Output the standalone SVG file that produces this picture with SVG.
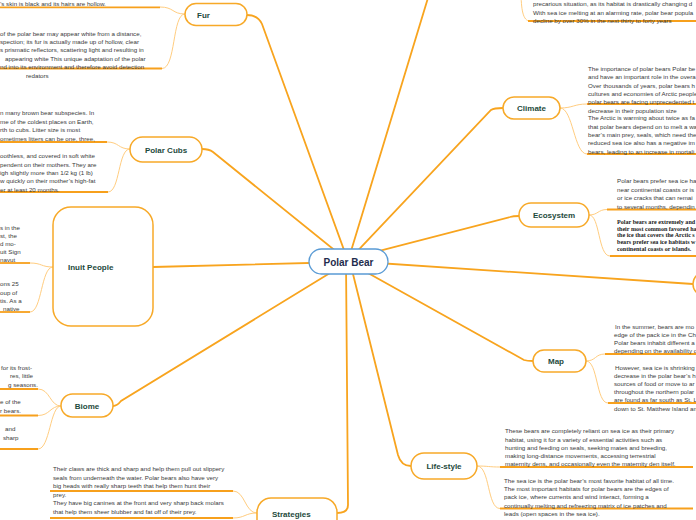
<svg xmlns="http://www.w3.org/2000/svg" width="696" height="520" viewBox="0 0 696 520">
<style>
.main{fill:none;stroke:#f8a41e;stroke-width:1.8;stroke-linecap:round}
.br{fill:none;stroke:#ffcd80;stroke-width:1}
.ul{stroke:#f7a01c;stroke-width:1.8}
.node{fill:#ffffff;stroke:#f7a928;stroke-width:1.5}
.nt{font-family:"Liberation Sans",Arial,sans-serif;font-size:8px;font-weight:bold;fill:#1e4a3c}
.lt{font-family:"Liberation Sans",Arial,sans-serif;font-size:6.2px;fill:#3a3a3a}
.st{font-family:"Liberation Serif","Times New Roman",serif;font-size:6.1px;fill:#222222;font-weight:bold}
</style>
<rect width="696" height="520" fill="#ffffff"/>
<g id="connectors">
<path class="main" d="M348,261 L262,24 Q258,15 247,15"/>
<path class="main" d="M348,261 L431,-12"/>
<path class="main" d="M348,261 L213,152 Q209,149 202,149"/>
<path class="main" d="M348,261 L491,110 Q494,108 503,108"/>
<path class="main" d="M348,259 L510,217 Q513,216 519,216"/>
<path class="main" d="M348,261 L693,284"/>
<path class="main" d="M348,262 L153,267"/>
<path class="main" d="M348,262 L121,401 Q117,406 113,406"/>
<path class="main" d="M346,262 L348,505 Q348,513 337,513"/>
<path class="main" d="M350,262 L398,455 Q401,466 411,466"/>
<path class="main" d="M350,263 L524,360 Q527,361 533,361"/>
<path class="br" d="M185,14 C172,14 174,7 160,7"/>
<path class="br" d="M185,14 C172,14 176,68.5 162,68.5"/>
<path class="br" d="M130,149 C118,149 119,142 107,142"/>
<path class="br" d="M130,149 C118,149 120,192 108,192"/>
<path class="br" d="M53,267 C41,267 42,263 30,263"/>
<path class="br" d="M53,267 C41,267 42,312 30,312"/>
<path class="br" d="M61,406 C50,406 50,389 38,389"/>
<path class="br" d="M61,406 C50,406 50,415.5 38,415.5"/>
<path class="br" d="M61,406 C50,406 50,449 38,449"/>
<path class="br" d="M257,513 C245,513 245,491 233,491"/>
<path class="br" d="M257,513 C245,513 245,518 233,518"/>
<path class="br" d="M521,-10 C521,10 523,21 530,21"/>
<path class="br" d="M560,108 C573,108 574,104 587,104"/>
<path class="br" d="M560,108 C573,108 574,154 587,154"/>
<path class="br" d="M589,215 C598,215 598,209.5 607,209.5"/>
<path class="br" d="M589,215 C600,215 598,256 610,256"/>
<path class="br" d="M586,361 C596,361 595,354 605,354"/>
<path class="br" d="M586,361 C598,361 596,403 608,403"/>
<path class="br" d="M477,466 C488,466 489,467 500,467"/>
<path class="br" d="M477,466 C490,466 487,508.5 500,508.5"/>
</g>
<g id="center">
<rect x="309" y="249" width="79" height="25" rx="12.5" fill="#ffffff" stroke="#5a9bd5" stroke-width="1.3"/>
<text x="348.5" y="265.5" text-anchor="middle" font-family="Liberation Sans,Arial,sans-serif" font-size="10" font-weight="bold" fill="#1f2d4d">Polar Bear</text>
</g>
<g id="fur">
<rect class="node" x="185" y="3.5" width="62" height="22" rx="11"/>
<text class="nt" x="197" y="18">Fur</text>
<line class="ul" x1="0" y1="7.3" x2="160" y2="7.3"/>
<text class="lt" x="0" y="6">’s skin is black and its hairs are hollow.</text>
<line class="ul" x1="0" y1="68.5" x2="162" y2="68.5"/>
<text class="lt"><tspan x="0" y="35.5">of the polar bear may appear white from a distance,</tspan><tspan x="0" y="44">spection; its fur is actually made up of hollow, clear</tspan><tspan x="0" y="52">s prismatic reflectors, scattering light and resulting in</tspan><tspan x="5" y="60.5">appearing white This unique adaptation of the polar</tspan><tspan x="0" y="69">nd into its environment and therefore avoid detection</tspan><tspan x="26" y="77.5">redators</tspan></text>
</g>
<g id="polar-cubs">
<rect class="node" x="130" y="137" width="72" height="25" rx="12.5"/>
<text class="nt" x="166" y="152.5" text-anchor="middle">Polar Cubs</text>
<line class="ul" x1="0" y1="142" x2="107" y2="142"/>
<text class="lt"><tspan x="0" y="115">n many brown bear subspecies. In</tspan><tspan x="0" y="123.5">me of the coldest places on Earth,</tspan><tspan x="0" y="132">rth to cubs. Litter size is most</tspan><tspan x="0" y="140.5">ometimes litters can be one, three,</tspan></text>
<line class="ul" x1="0" y1="192" x2="108" y2="192"/>
<text class="lt"><tspan x="0" y="158">oothless, and covered in soft white</tspan><tspan x="0" y="166.5">pendent on their mothers. They are</tspan><tspan x="0" y="174.5">igh slightly more than 1/2 kg (1 lb)</tspan><tspan x="0" y="183">w quickly on their mother’s high-fat</tspan><tspan x="0" y="191.5">er at least 20 months.</tspan></text>
</g>
<g id="inuit-people">
<rect class="node" x="53" y="207" width="100" height="119" rx="18"/>
<text class="nt" x="68" y="270">Inuit People</text>
<line class="ul" x1="0" y1="263" x2="30" y2="263"/>
<text class="lt"><tspan x="0" y="229.5">s in the</tspan><tspan x="0" y="238">st, the</tspan><tspan x="0" y="246">d mo-</tspan><tspan x="0" y="254">uit Sign</tspan><tspan x="0" y="262">navut</tspan></text>
<line class="ul" x1="0" y1="312" x2="30" y2="312"/>
<text class="lt"><tspan x="0" y="286">ons 25</tspan><tspan x="0" y="295">oup of</tspan><tspan x="0" y="303">tis. As a</tspan><tspan x="3" y="311">native</tspan></text>
</g>
<g id="biome">
<rect class="node" x="61" y="394" width="52" height="23" rx="11.5"/>
<text class="nt" x="87" y="408.5" text-anchor="middle">Biome</text>
<line class="ul" x1="0" y1="389" x2="38" y2="389"/>
<text class="lt"><tspan x="1" y="369.5">for its frost-</tspan><tspan x="10" y="378">res, little</tspan><tspan x="8" y="386.5">g seasons.</tspan></text>
<line class="ul" x1="0" y1="415.5" x2="38" y2="415.5"/>
<text class="lt"><tspan x="0" y="404">e of the</tspan><tspan x="0" y="413">r bears.</tspan></text>
<line class="ul" x1="0" y1="449" x2="38" y2="449"/>
<text class="lt"><tspan x="5" y="431">and</tspan><tspan x="3" y="440">sharp</tspan></text>
</g>
<g id="strategies">
<rect class="node" x="257" y="498" width="80" height="50" rx="14"/>
<text class="nt"><tspan x="272" y="516.5">Strategies</tspan><tspan x="272" y="526">Of Adaptation</tspan></text>
<line class="ul" x1="50" y1="491" x2="233" y2="491"/>
<line class="ul" x1="50" y1="518" x2="233" y2="518"/>
<text class="lt"><tspan x="53" y="471">Their claws are thick and sharp and help them pull out slippery</tspan><tspan x="53" y="479.5">seals from underneath the water. Polar bears also have very</tspan><tspan x="53" y="488">big heads with really sharp teeth that help them hunt their</tspan><tspan x="53" y="497">prey.</tspan><tspan x="53" y="505">They have big canines at the front and very sharp back molars</tspan><tspan x="53" y="514">that help them sheer blubber and fat off of their prey.</tspan></text>
</g>
<g id="top-leaf">
<line class="ul" x1="528" y1="21" x2="696" y2="21"/>
<text class="lt"><tspan x="533" y="6">precarious situation, as its habitat is drastically changing d</tspan><tspan x="533" y="14.5">With sea ice melting at an alarming rate, polar bear popula</tspan><tspan x="533" y="23">decline by over 30% in the next thirty to forty years</tspan></text>
</g>
<g id="climate">
<rect class="node" x="503" y="97" width="57" height="22" rx="11"/>
<text class="nt" x="531.5" y="111" text-anchor="middle">Climate</text>
<line class="ul" x1="587" y1="104" x2="696" y2="104"/>
<text class="lt"><tspan x="588" y="70.5">The importance of polar bears Polar be</tspan><tspan x="588" y="79">and have an important role in the overa</tspan><tspan x="588" y="87.5">Over thousands of years, polar bears h</tspan><tspan x="588" y="95.5">cultures and economies of Arctic people</tspan><tspan x="588" y="104">polar bears are facing unprecedented t</tspan><tspan x="588" y="113">decrease in their population size</tspan></text>
<line class="ul" x1="587" y1="154" x2="696" y2="154"/>
<text class="lt"><tspan x="588" y="120">The Arctic is warming about twice as fa</tspan><tspan x="588" y="128.5">that polar bears depend on to melt a wa</tspan><tspan x="588" y="136.5">bear’s main prey, seals, which need the</tspan><tspan x="588" y="145">reduced sea ice also has a negative im</tspan><tspan x="588" y="153.5">bears, leading to an increase in mortali</tspan></text>
</g>
<g id="ecosystem">
<rect class="node" x="519" y="203" width="70" height="24" rx="12"/>
<text class="nt" x="554" y="218" text-anchor="middle">Ecosystem</text>
<line class="ul" x1="607" y1="209.5" x2="696" y2="209.5"/>
<text class="lt"><tspan x="617" y="183">Polar bears prefer sea ice ha</tspan><tspan x="617" y="191.5">near continental coasts or is</tspan><tspan x="617" y="200">or ice cracks that can remai</tspan><tspan x="617" y="208.5">to several months, dependin</tspan></text>
<line class="ul" x1="610" y1="256" x2="696" y2="256"/>
<text class="st"><tspan x="617" y="224">Polar bears are extremely and</tspan><tspan x="617" y="230.5">their most common favored ha</tspan><tspan x="617" y="237">the ice that covers the Arctic s</tspan><tspan x="617" y="244">bears prefer sea ice habitats w</tspan><tspan x="617" y="251">continental coasts or islands.</tspan></text>
</g>
<g id="right-node">
<rect class="node" x="693" y="272" width="60" height="24" rx="12"/>
</g>
<g id="map">
<rect class="node" x="533" y="350" width="53" height="22" rx="11"/>
<text class="nt" x="556" y="364" text-anchor="middle">Map</text>
<line class="ul" x1="605" y1="354" x2="696" y2="354"/>
<text class="lt"><tspan x="615" y="328.5">In the summer, bears are mo</tspan><tspan x="614" y="336.5">edge of the pack ice in the Ch</tspan><tspan x="614" y="345">Polar bears inhabit different a</tspan><tspan x="614" y="353">depending on the availability o</tspan></text>
<line class="ul" x1="608" y1="403" x2="696" y2="403"/>
<text class="lt"><tspan x="615" y="369.5">However, sea ice is shrinking</tspan><tspan x="614" y="377.5">decrease in the polar bear’s h</tspan><tspan x="614" y="385.5">sources of food or move to ar</tspan><tspan x="614" y="394">throughout the northern polar</tspan><tspan x="614" y="402">are found as far south as St. L</tspan><tspan x="614" y="410.5">down to St. Matthew Island an</tspan></text>
</g>
<g id="life-style">
<rect class="node" x="411" y="453" width="66" height="26" rx="13"/>
<text class="nt" x="444" y="469" text-anchor="middle">Life-style</text>
<line class="ul" x1="500" y1="467" x2="693" y2="467"/>
<text class="lt"><tspan x="505" y="433">These bears are completely reliant on sea ice as their primary</tspan><tspan x="505" y="441.5">habitat, using it for a variety of essential activities such as</tspan><tspan x="505" y="449.5">hunting and feeding on seals, seeking mates and breeding,</tspan><tspan x="505" y="458">making long-distance movements, accessing terrestrial</tspan><tspan x="505" y="466">maternity dens, and occasionally even the maternity den itself.</tspan></text>
<line class="ul" x1="500" y1="508.5" x2="693" y2="508.5"/>
<text class="lt"><tspan x="504" y="483">The sea ice is the polar bear’s most favorite habitat of all time.</tspan><tspan x="504" y="491">The most important habitats for polar bears are the edges of</tspan><tspan x="504" y="499">pack ice, where currents and wind interact, forming a</tspan><tspan x="504" y="507.5">continually melting and refreezing matrix of ice patches and</tspan><tspan x="504" y="516">leads (open spaces in the sea ice).</tspan></text>
</g>
</svg>
